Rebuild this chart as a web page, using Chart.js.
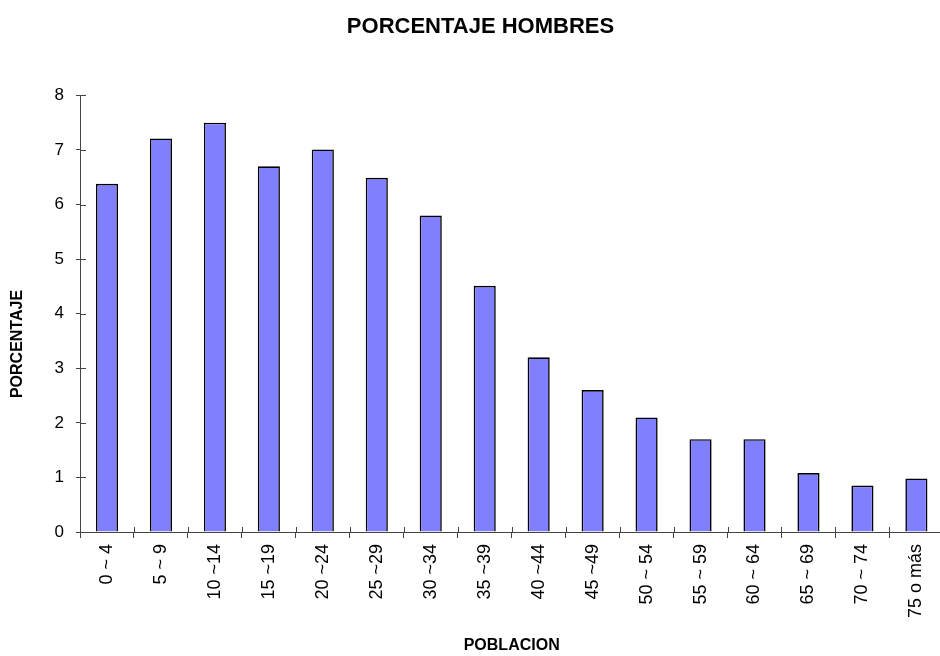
<!DOCTYPE html>
<html>
<head>
<meta charset="utf-8">
<script src="https://cdn.jsdelivr.net/npm/chart.js@4/dist/chart.umd.min.js"></script>
<style>
html,body{margin:0;padding:0;background:#fff;overflow:hidden;}
#wrap{width:940px;height:656px;overflow:hidden;position:relative;}
canvas{display:block;}
</style>
</head>
<body>
<div id="wrap"><canvas id="c" width="944" height="656"></canvas></div>
<script>
const categories = ["0 ~ 4","5 ~ 9","10 ~14","15 ~19","20 ~24","25 ~29","30 ~34","35 ~39","40 ~44","45 ~49","50 ~ 54","55 ~ 59","60 ~ 64","65 ~ 69","70 ~ 74","75 o más"];
const porcentaje = [6.38,7.21,7.50,6.70,7.01,6.49,5.80,4.51,3.20,2.60,2.10,1.70,1.70,1.08,0.85,0.98];
const yTicks = [0,1,2,3,4,5,6,7,8];
const chartTitle = "PORCENTAJE HOMBRES";
const xTitle = "POBLACION";
const yTitle = "PORCENTAJE";

const FONT = "'Liberation Sans', Arial, sans-serif";
const AXIS = '#444';

const extras = {
  id: 'extras',
  afterDraw(chart) {
    const ctx = chart.ctx;
    const x = chart.scales.x, y = chart.scales.y;
    ctx.save();
    ctx.strokeStyle = AXIS;
    ctx.lineWidth = 1;
    // inner half of cross tick marks
    yTicks.forEach(v => {
      const py = Math.round(y.getPixelForValue(v)) + 0.5;
      ctx.beginPath();
      ctx.moveTo(x.left, py);
      ctx.lineTo(x.left + 6, py);
      ctx.stroke();
    });
    for (let i = 0; i <= categories.length; i++) {
      const px = Math.round(x.getPixelForValue(i - 0.5)) + 0.5;
      ctx.beginPath();
      ctx.moveTo(px, y.bottom);
      ctx.lineTo(px, y.bottom - 5);
      ctx.stroke();
    }
    // y-axis title
    ctx.fillStyle = '#000';
    ctx.font = "bold 16px " + FONT;
    ctx.textAlign = 'center';
    ctx.textBaseline = 'middle';
    ctx.translate(18, 344);
    ctx.rotate(-Math.PI / 2);
    ctx.fillText(yTitle, 0, 0);
    ctx.restore();
  }
};

new Chart(document.getElementById('c'), {
  type: 'bar',
  data: {
    labels: categories,
    datasets: [{
      data: porcentaje,
      backgroundColor: '#8080FF',
      borderColor: '#000',
      borderWidth: 1.6,
      categoryPercentage: 1,
      barPercentage: 0.41
    }]
  },
  options: {
    responsive: false,
    animation: false,
    devicePixelRatio: 1,
    layout: { padding: { left: 17, right: 0, top: 0, bottom: 0 } },
    plugins: {
      legend: { display: false },
      tooltip: { enabled: false },
      title: {
        display: true,
        text: chartTitle,
        color: '#000',
        font: { family: FONT, size: 22, weight: 'bold', lineHeight: 1.2 },
        padding: { top: 14, bottom: 55 }
      }
    },
    scales: {
      x: {
        offset: true,
        grid: { display: true, drawOnChartArea: false, offset: true, tickLength: 6, color: AXIS, tickColor: AXIS },
        border: { display: true, color: AXIS, width: 1 },
        ticks: {
          color: '#000',
          font: { family: FONT, size: 18 },
          minRotation: 90, maxRotation: 90,
          autoSkip: false,
          padding: 6
        },
        title: {
          display: true,
          text: xTitle,
          color: '#000',
          font: { family: FONT, size: 16, weight: 'bold', lineHeight: 1.2 },
          padding: { top: 0, bottom: 1 }
        },
        afterFit(s) { s.height = 124; }
      },
      y: {
        min: 0, max: 8,
        afterBuildTicks(s) { s.ticks = yTicks.map(v => ({ value: v })); },
        grid: { display: true, drawOnChartArea: false, tickLength: 4, color: AXIS, tickColor: AXIS },
        border: { display: true, color: AXIS, width: 1 },
        ticks: {
          color: '#000',
          font: { family: FONT, size: 17 },
          padding: 12
        },
        afterFit(s) { s.width = 63; }
      }
    }
  },
  plugins: [extras]
});
</script>
</body>
</html>
